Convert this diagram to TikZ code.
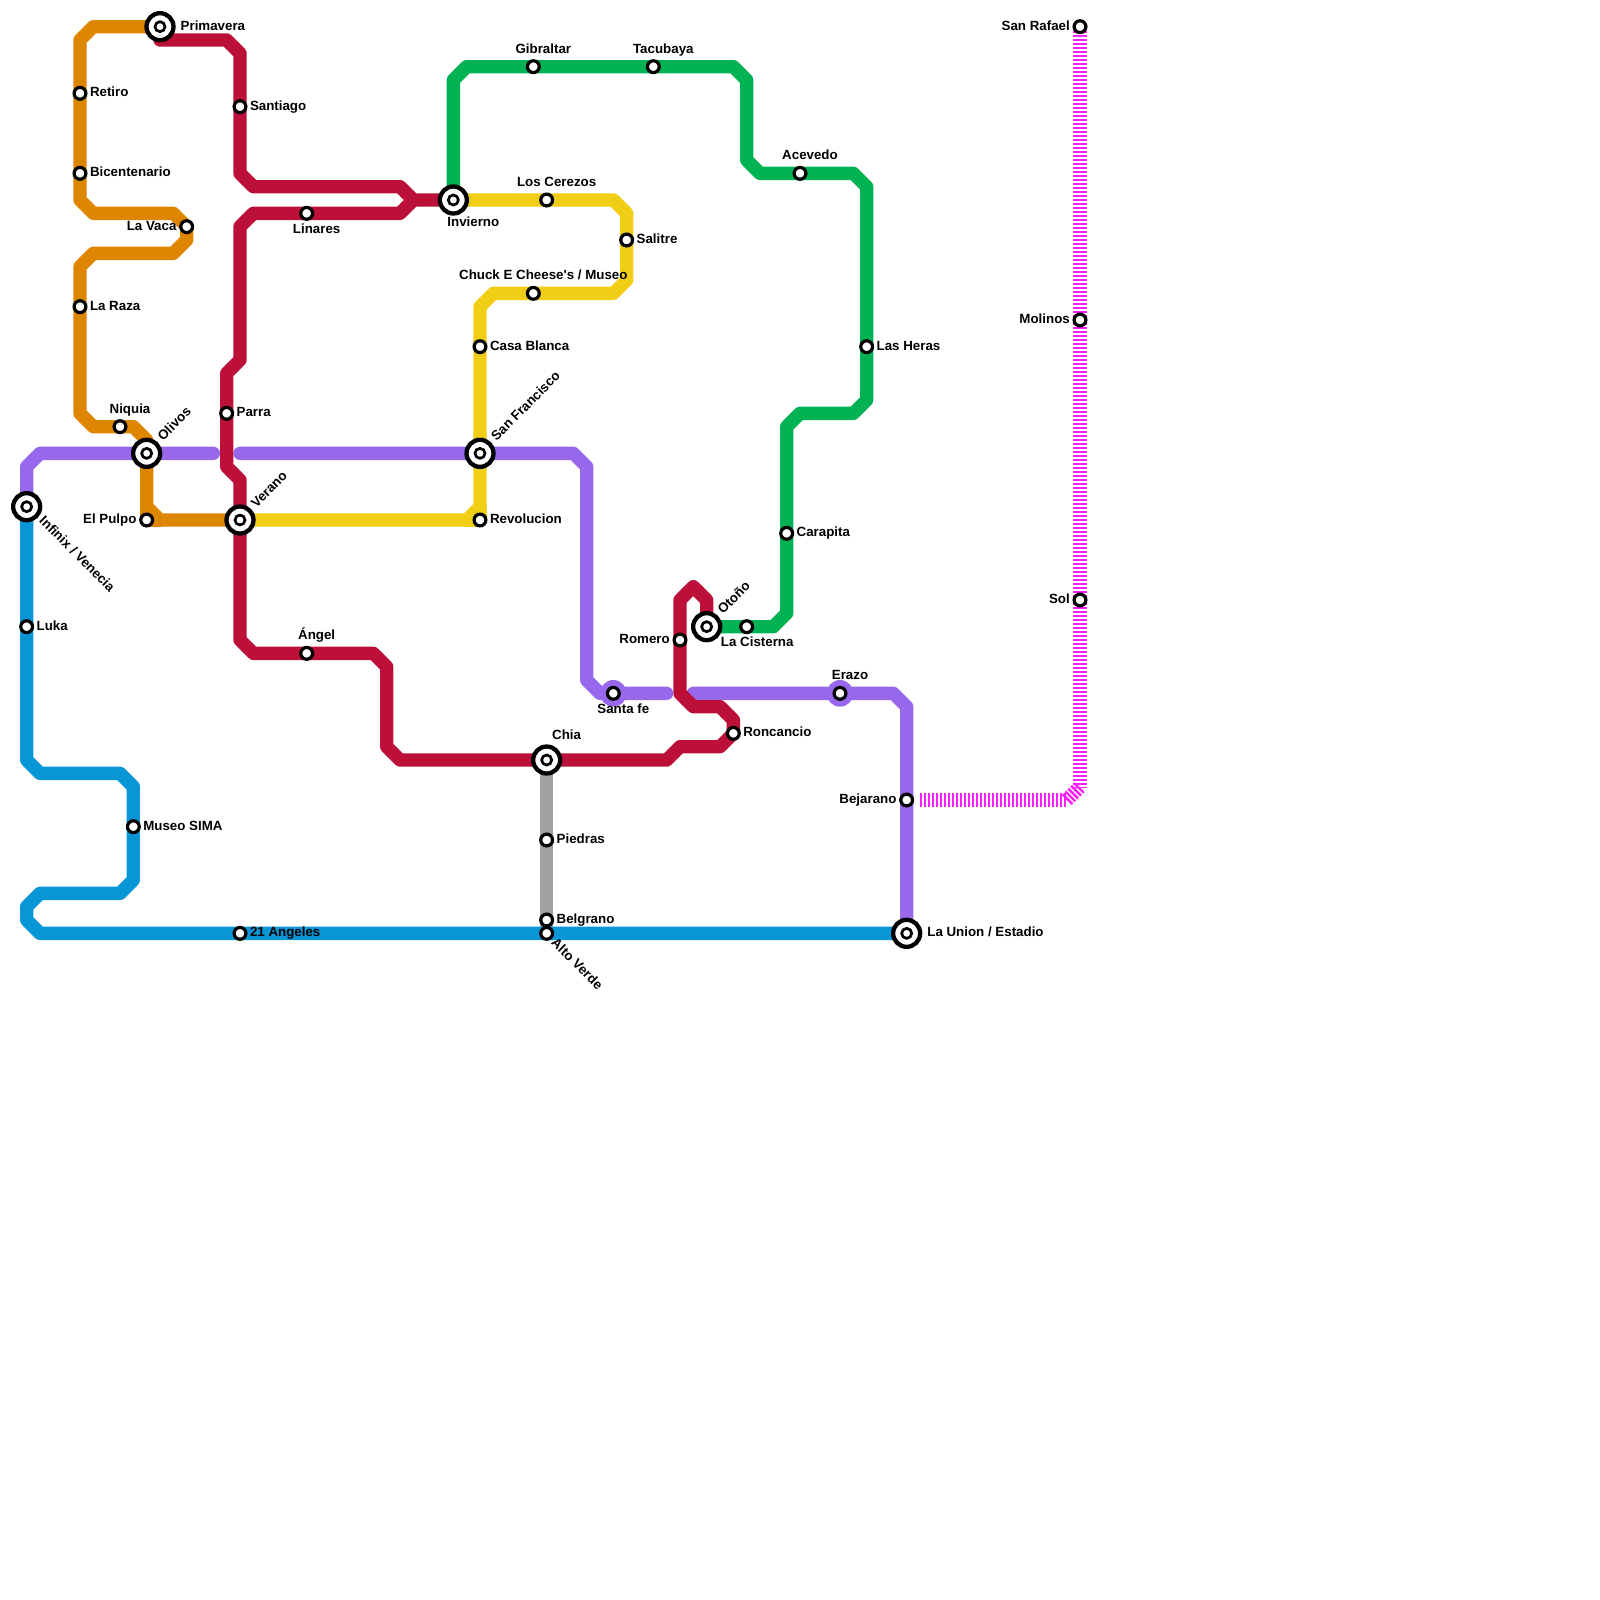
\documentclass[tikz,border=0pt]{standalone}
\usepackage{fontspec}
\newfontfamily\lblfont{Liberation Sans}
\setmainfont{Liberation Sans}
\usetikzlibrary{backgrounds}
\def\px{0.7113pt}
\definecolor{cOrange}{HTML}{DF8600}
\definecolor{cRed}{HTML}{BD1038}
\definecolor{cGreen}{HTML}{00B251}
\definecolor{cYellow}{HTML}{F0CE15}
\definecolor{cPurple}{HTML}{9768EC}
\definecolor{cBlue}{HTML}{0896D7}
\definecolor{cGray}{HTML}{A2A2A2}
\definecolor{cMagenta}{HTML}{FF1FFF}
\tikzset{
  metro/.style={line width=13.33*\px,line cap=round,line join=round},
  stripes/.style={line width=14*\px,line cap=butt,draw=cMagenta,dash pattern=on 2.4*\px off 1.6*\px},
  stn/.style={circle,draw=black,fill=white,line width=3.2*\px,minimum size=11.8*\px,inner sep=0pt,outer sep=0pt},
  ic/.style={circle,draw=black,fill=white,line width=4.3*\px,minimum size=27*\px,inner sep=0pt,outer sep=0pt,
    path picture={\draw[black,line width=2.7*\px] (path picture bounding box.center) circle (5*\px);}},
  halo/.style={circle,fill=cPurple,minimum size=26.67*\px,inner sep=0pt,outer sep=0pt},
  lbl/.style={inner sep=0pt,outer sep=0pt,font=\lblfont\fontsize{9.48pt}{11pt}\selectfont\bfseries,text=black}
}
% label: station, anchor, dx px, dy px (up positive), rotation, text
\newcommand{\Lb}[6]{\node[lbl,anchor=#2,rotate=#5] (lab#1) at ([xshift=#3*\px,yshift=#4*\px]#1.center) {#6};}
\newcommand{\LR}[2]{\Lb{#1}{base west}{10}{-3.6}{0}{#2}}
\newcommand{\LL}[2]{\Lb{#1}{base east}{-10.2}{-3.6}{0}{#2}}
\newcommand{\LA}[2]{\Lb{#1}{base}{10}{13.5}{0}{#2}}
\newcommand{\LB}[2]{\Lb{#1}{base}{10}{-20.5}{0}{#2}}
\begin{document}
\begin{tikzpicture}[x=1cm/3,y=-1cm/3]
\useasboundingbox (0,0) rectangle (120,120);
% halos
\node[halo] (hSantafe) at (46,52) {};
\node[halo] (hErazo) at (63,52) {};
% stations
\node[ic] (primavera) at (12,2) {};
\node[stn] (retiro) at (6,7) {};
\node[stn] (bicent) at (6,13) {};
\node[stn] (lavaca) at (14,17) {};
\node[stn] (laraza) at (6,23) {};
\node[stn] (niquia) at (9,32) {};
\node[ic] (olivos) at (11,34) {};
\node[stn] (elpulpo) at (11,39) {};
\node[ic] (verano) at (18,39) {};
\node[stn] (santiago) at (18,8) {};
\node[stn] (linares) at (23,16) {};
\node[ic] (invierno) at (34,15) {};
\node[stn] (parra) at (17,31) {};
\node[ic] (infinix) at (2,38) {};
\node[stn] (luka) at (2,47) {};
\node[stn] (angel) at (23,49) {};
\node[ic] (chia) at (41,57) {};
\node[stn] (romero) at (51,48) {};
\node[ic] (otono) at (53,47) {};
\node[stn] (roncancio) at (55,55) {};
\node[stn] (gibraltar) at (40,5) {};
\node[stn] (tacubaya) at (49,5) {};
\node[stn] (acevedo) at (60,13) {};
\node[stn] (lasheras) at (65,26) {};
\node[stn] (carapita) at (59,40) {};
\node[stn] (cisterna) at (56,47) {};
\node[stn] (cerezos) at (41,15) {};
\node[stn] (salitre) at (47,18) {};
\node[stn] (chuck) at (40,22) {};
\node[stn] (casablanca) at (36,26) {};
\node[ic] (sanfran) at (36,34) {};
\node[stn] (revolucion) at (36,39) {};
\node[stn] (santafe) at (46,52) {};
\node[stn] (erazo) at (63,52) {};
\node[stn] (bejarano) at (68,60) {};
\node[ic] (launion) at (68,70) {};
\node[stn] (museo) at (10,62) {};
\node[stn] (angeles) at (18,70) {};
\node[stn] (altoverde) at (41,70) {};
\node[stn] (belgrano) at (41,69) {};
\node[stn] (piedras) at (41,63) {};
\node[stn] (sanrafael) at (81,2) {};
\node[stn] (molinos) at (81,24) {};
\node[stn] (sol) at (81,45) {};
\coordinate (redstart) at (12,3);
\coordinate (purpleA) at (16,34);
\coordinate (purpleB) at (18,34);
\coordinate (purpleC) at (50,52);
\coordinate (purpleD) at (52,52);
\coordinate (magA) at (69,60);
\coordinate (magB) at (80,60);
\coordinate (magC) at (81,59);
% lines
\begin{scope}[on background layer]
\draw[stripes] (magA) -- (magB);
\draw[stripes] (magB) -- (magC);
\draw[stripes] (sanrafael.center) -- (molinos.center) -- (sol.center) -- (magC);
\draw[metro,cGray] (chia.center) -- (piedras.center) -- (belgrano.center) -- (altoverde.center);
\draw[metro,cOrange] (primavera.center) -- (7,2) -- (6,3) -- (retiro.center) -- (bicent.center) -- (6,15) -- (7,16) -- (13,16) -- (lavaca.center) -- (14,18) -- (13,19) -- (7,19) -- (6,20) -- (laraza.center) -- (6,31) -- (7,32) -- (niquia.center) -- (10,32) -- (11,33) -- (olivos.center) -- (11,38) -- (12,39) -- (verano.center);
\draw[metro,cOrange] (11,38) -- (elpulpo.center) -- (12,39);
\draw[metro,cGreen] (invierno.center) -- (34,6) -- (35,5) -- (gibraltar.center) -- (tacubaya.center) -- (55,5) -- (56,6) -- (56,12) -- (57,13) -- (acevedo.center) -- (64,13) -- (65,14) -- (lasheras.center) -- (65,30) -- (64,31) -- (60,31) -- (59,32) -- (carapita.center) -- (59,46) -- (58,47) -- (cisterna.center) -- (otono.center);
\draw[metro,cYellow] (invierno.center) -- (cerezos.center) -- (46,15) -- (47,16) -- (salitre.center) -- (47,21) -- (46,22) -- (chuck.center) -- (37,22) -- (36,23) -- (casablanca.center) -- (sanfran.center) -- (revolucion.center);
\draw[metro,cYellow] (revolucion.center) -- (36,38) -- (35,39) -- (verano.center);
\draw[metro,cYellow] (35,39) -- (revolucion.center);
\draw[metro,cPurple] (infinix.center) -- (2,35) -- (3,34) -- (olivos.center) -- (purpleA);
\draw[metro,cPurple] (purpleB) -- (sanfran.center) -- (43,34) -- (44,35) -- (44,51) -- (45,52) -- (santafe.center) -- (purpleC);
\draw[metro,cPurple] (purpleD) -- (erazo.center) -- (67,52) -- (68,53) -- (bejarano.center) -- (launion.center);
\draw[metro,cRed] (redstart) -- (17,3) -- (18,4) -- (santiago.center) -- (18,13) -- (19,14) -- (30,14) -- (31,15) -- (invierno.center);
\draw[metro,cRed] (31,15) -- (30,16) -- (linares.center) -- (19,16) -- (18,17) -- (18,27) -- (17,28) -- (parra.center) -- (17,35) -- (18,36) -- (verano.center) -- (18,48) -- (19,49) -- (angel.center) -- (28,49) -- (29,50) -- (29,56) -- (30,57) -- (chia.center) -- (50,57) -- (51,56) -- (54,56) -- (roncancio.center) -- (55,54) -- (54,53) -- (52,53) -- (51,52) -- (romero.center) -- (51,45) -- (52,44) -- (53,45) -- (otono.center);
\draw[metro,cBlue] (infinix.center) -- (luka.center) -- (2,57) -- (3,58) -- (9,58) -- (10,59) -- (museo.center) -- (10,66) -- (9,67) -- (3,67) -- (2,68) -- (2,69) -- (3,70) -- (angeles.center) -- (altoverde.center) -- (launion.center);
\end{scope}
% labels
\Lb{primavera}{base west}{20.7}{-3.6}{0}{Primavera}
\LR{retiro}{Retiro}
\LR{bicent}{Bicentenario}
\LL{lavaca}{La Vaca}
\LR{laraza}{La Raza}
\LA{niquia}{Niquia}
\Lb{olivos}{base west}{16.5}{12}{45}{Olivos}
\LL{elpulpo}{El Pulpo}
\Lb{verano}{base west}{16.5}{12}{45}{Verano}
\LR{santiago}{Santiago}
\LB{linares}{Linares}
\Lb{invierno}{base}{20}{-26.5}{0}{Invierno}
\LR{parra}{Parra}
\Lb{infinix}{base west}{12}{-15}{-45}{Infinix / Venecia}
\LR{luka}{Luka}
\LA{angel}{Ángel}
\Lb{chia}{base}{20}{21}{0}{Chia}
\LL{romero}{Romero}
\Lb{otono}{base west}{16.5}{12}{45}{Otoño}
\LR{roncancio}{Roncancio}
\LA{gibraltar}{Gibraltar}
\LA{tacubaya}{Tacubaya}
\LA{acevedo}{Acevedo}
\LR{lasheras}{Las Heras}
\LR{carapita}{Carapita}
\Lb{cisterna}{base west}{-25.7}{-19.5}{0}{La Cisterna}
\LA{cerezos}{Los Cerezos}
\LR{salitre}{Salitre}
\LA{chuck}{Chuck E Cheese's / Museo}
\LR{casablanca}{Casa Blanca}
\Lb{sanfran}{base west}{16.5}{12}{45}{San Francisco}
\LR{revolucion}{Revolucion}
\LB{santafe}{Santa fe}
\LA{erazo}{Erazo}
\LL{bejarano}{Bejarano}
\Lb{launion}{base west}{20.7}{-3.6}{0}{La Union / Estadio}
\LR{museo}{Museo SIMA}
\LR{angeles}{21 Angeles}
\Lb{altoverde}{base west}{4}{-10.5}{-45}{Alto Verde}
\LR{belgrano}{Belgrano}
\LR{piedras}{Piedras}
\LL{sanrafael}{San Rafael}
\LL{molinos}{Molinos}
\LL{sol}{Sol}
\end{tikzpicture}
\end{document}
